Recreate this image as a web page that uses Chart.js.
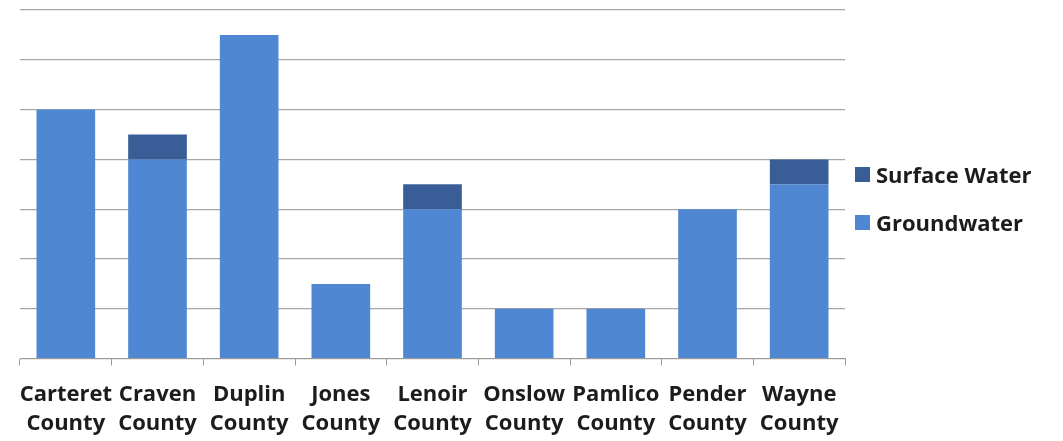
<!DOCTYPE html>
<html>
<head>
<meta charset="utf-8">
<script src="https://cdn.jsdelivr.net/npm/chart.js@4/dist/chart.umd.min.js"></script>
<style>
    html, body { margin: 0; padding: 0; background: #ffffff; }
    #wrap { position: relative; width: 1063px; height: 441px; }
    #legend { position: absolute; left: 855px; top: 160px; font: bold 22px "Open Sans", sans-serif; color: #1c1c1c; }
    #legend div { display: flex; align-items: center; height: 28px; margin-bottom: 20px; }
    #legend span.box { display: inline-block; width: 15px; height: 15px; margin-right: 6px; }
</style>
</head>
<body>
<div id="wrap">
    <canvas id="waterChart" width="1063" height="441"></canvas>
    <div id="legend"></div>
</div>
<script>
const counties = [
    ["Carteret", "County"], ["Craven", "County"], ["Duplin", "County"],
    ["Jones", "County"], ["Lenoir", "County"], ["Onslow", "County"],
    ["Pamlico", "County"], ["Pender", "County"], ["Wayne", "County"]
];
const groundwater = [5, 4, 6.5, 1.5, 3, 1, 1, 3, 3.5];
const surfaceWater = [0, 0.5, 0, 0, 0.5, 0, 0, 0, 0.5];

const groundColor = "#4f87d2";
const surfaceColor = "#395e97";

const ctx = document.getElementById("waterChart").getContext("2d");

const waterChart = new Chart(ctx, {
    type: "bar",
    data: {
        labels: counties,
        datasets: [
            {
                label: "Groundwater",
                data: groundwater,
                backgroundColor: groundColor,
                categoryPercentage: 0.64,
                barPercentage: 1
            },
            {
                label: "Surface Water",
                data: surfaceWater,
                backgroundColor: surfaceColor,
                categoryPercentage: 0.64,
                barPercentage: 1
            }
        ]
    },
    options: {
        responsive: false,
        animation: false,
        layout: {
            padding: { left: 20, right: 218, top: 10, bottom: -12 }
        },
        plugins: {
            legend: { display: false },
            tooltip: { enabled: false }
        },
        scales: {
            x: {
                stacked: true,
                grid: {
                    drawOnChartArea: false,
                    drawTicks: true,
                    tickLength: 7,
                    color: "#9a9a9a"
                },
                border: { display: true, color: "#9a9a9a", width: 1 },
                ticks: {
                    color: "#1c1c1c",
                    padding: 14,
                    maxRotation: 0,
                    autoSkip: false,
                    font: { family: "'Open Sans', sans-serif", size: 22, weight: "bold", lineHeight: 1.35 }
                }
            },
            y: {
                stacked: true,
                min: 0,
                max: 7,
                ticks: { stepSize: 1, display: false },
                grid: { color: "#a6a6a6", drawTicks: false, lineWidth: 1.2 },
                border: { display: false }
            }
        }
    }
});

// legend on the right, Surface Water listed first
const legendEl = document.getElementById("legend");
[["Surface Water", surfaceColor], ["Groundwater", groundColor]].forEach(([name, color]) => {
    const row = document.createElement("div");
    row.innerHTML = `<span class="box" style="background:${color}"></span>${name}`;
    legendEl.appendChild(row);
});
</script>
</body>
</html>
